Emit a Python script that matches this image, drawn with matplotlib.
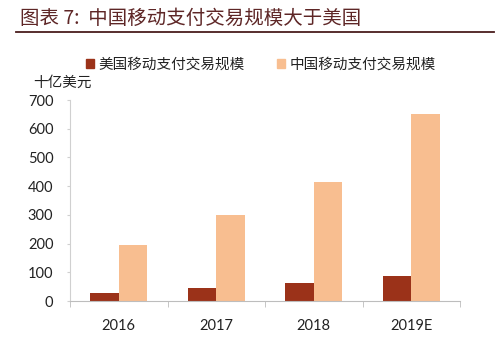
import numpy as np
import matplotlib
matplotlib.use('Agg')
import matplotlib.pyplot as plt
from matplotlib.patches import Patch
from matplotlib.lines import Line2D

plt.rcParams['font.family'] = ['Lato', 'Noto Sans CJK SC', 'DejaVu Sans']

years = ['2016', '2017', '2018', '2019E']
us_volume = [29, 44, 64, 87]
cn_volume = [195, 300, 413, 651]
series_names = ['美国移动支付交易规模', '中国移动支付交易规模']
us_color = '#9b3219'
cn_color = '#f8be90'

fig = plt.figure(figsize=(5, 3.45), dpi=100)
ax = fig.add_axes([0.14, 0.1275, 0.78, 0.5825])

x = np.arange(len(years))
w = 0.29
ax.bar(x - w / 2, us_volume, w, color=us_color)
ax.bar(x + w / 2, cn_volume, w, color=cn_color)

ax.set_xlim(-0.5, len(years) - 0.5)
ax.set_ylim(0, 700)
ax.set_yticks(range(0, 701, 100))
ax.set_xticks(x)
ax.set_xticklabels(years)
ax.set_xticks(np.arange(-0.5, len(years)), minor=True)

for s in ['top', 'right']:
    ax.spines[s].set_visible(False)
ax.spines['left'].set_color('#d0d0d0')
ax.spines['bottom'].set_color('#bdbdbd')
ax.tick_params(axis='y', length=2, color='#d0d0d0', pad=10, labelsize=10.5, labelcolor='#222222')
ax.tick_params(axis='x', which='major', length=0, pad=13, labelsize=10.5, labelcolor='#222222')
ax.tick_params(axis='x', which='minor', length=4, color='#bdbdbd', direction='out')

# heading and rule
fig.text(20 / 500, 1 - 18 / 345, '图表 7:  中国移动支付交易规模大于美国', fontsize=14,
         color='#5e2626', ha='left', va='center', family=['Noto Sans CJK SC', 'DejaVu Sans'])
fig.add_artist(Line2D([16 / 500, 494 / 500], [1 - 32 / 345, 1 - 32 / 345],
                      color='#4a1c1c', lw=1.3, transform=fig.transFigure))

fig.text(33 / 500, 1 - 83 / 345, '十亿美元', fontsize=10.5, color='#222222',
         ha='left', va='center')

handles = [Patch(color=us_color), Patch(color=cn_color)]
fig.legend(handles, series_names, loc='center', bbox_to_anchor=(0.522, 1 - 65 / 345),
           ncol=2, frameon=False, fontsize=10.5, handlelength=0.55, handleheight=0.55,
           handletextpad=0.3, columnspacing=2.2, labelcolor='#222222')

fig.savefig('out.png', dpi=100, facecolor='white')
